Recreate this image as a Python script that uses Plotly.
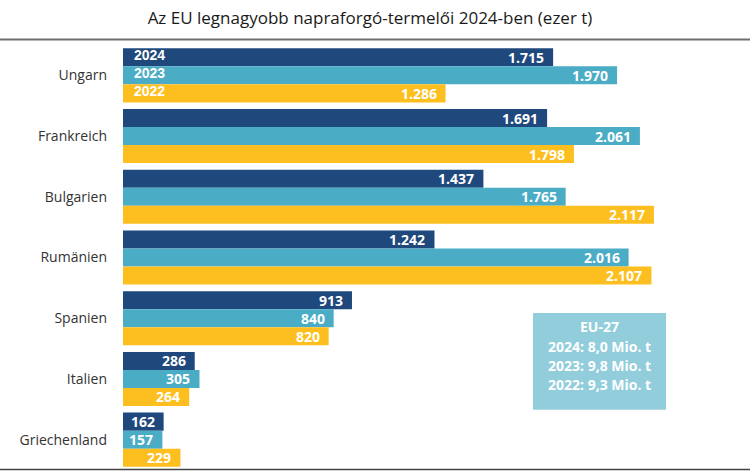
import plotly.graph_objects as go

title_text = "Az EU legnagyobb napraforgó-termelői 2024-ben (ezer t)"
countries = ["Ungarn", "Frankreich", "Bulgarien", "Rumänien", "Spanien", "Italien", "Griechenland"]
years = ["2024", "2023", "2022"]
v2024 = [1715, 1691, 1437, 1242, 913, 286, 162]
v2023 = [1970, 2061, 1765, 2016, 840, 305, 157]
v2022 = [1286, 1798, 2117, 2107, 820, 264, 229]
colors = ["#1f487c", "#4bacc6", "#fdbf1f"]
eu_lines = ["EU-27", "2024: 8,0 Mio. t", "2023: 9,8 Mio. t", "2022: 9,3 Mio. t"]

series = [v2024, v2023, v2022]

W, H = 750, 475
ML, MT, MB = 123, 44.6, 4.6
plot_h = H - MT - MB

fig = go.Figure()
for yr, vals, col in zip(years, series, colors):
    fig.add_trace(go.Bar(
        y=countries, x=vals, name=yr, orientation="h",
        marker=dict(color=col, line=dict(width=0)),
        hoverinfo="skip",
    ))

def fmt(v):
    return f"{v:,}".replace(",", ".")

annotations = []
shifts = [18, 0, -18]
for yr, vals, sh in zip(years, series, shifts):
    for c, v in zip(countries, vals):
        annotations.append(dict(
            x=v, y=c, xref="x", yref="y", text=fmt(v), showarrow=False,
            xanchor="right", yanchor="middle", xshift=-7, yshift=sh,
            font=dict(family="Open Sans", size=14, color="white", weight="bold"),
        ))
    annotations.append(dict(
        x=0, y=countries[0], xref="x", yref="y", text=yr, showarrow=False,
        xanchor="left", yanchor="middle", xshift=9, yshift=sh + 2,
        font=dict(family="Liberation Sans", size=14, color="white", weight="bold"),
    ))

# EU box
box_x0, box_x1, box_y0, box_y1 = 533, 666, 313, 410
def px_to_paper_x(px):
    return (px - ML) / (W - ML)
def px_to_paper_y(py):
    return (H - MB - py) / plot_h

line_ys = [327, 347, 366, 385]
for txt, ly in zip(eu_lines, line_ys):
    annotations.append(dict(
        x=px_to_paper_x((box_x0 + box_x1) / 2), y=px_to_paper_y(ly),
        xref="paper", yref="paper", text=txt, showarrow=False,
        xanchor="center", yanchor="middle",
        font=dict(family="Open Sans", size=14, color="white", weight="bold"),
    ))

shapes = [
    dict(type="rect", xref="paper", yref="paper",
         x0=px_to_paper_x(box_x0), x1=px_to_paper_x(box_x1),
         y0=px_to_paper_y(box_y1), y1=px_to_paper_y(box_y0),
         fillcolor="#92cddc", line=dict(width=0), layer="below"),
    dict(type="line", xref="paper", yref="paper",
         x0=px_to_paper_x(0), x1=1, y0=px_to_paper_y(39), y1=px_to_paper_y(39),
         line=dict(color="#6e6e6e", width=2)),
    dict(type="line", xref="paper", yref="paper",
         x0=px_to_paper_x(0), x1=1, y0=px_to_paper_y(470), y1=px_to_paper_y(470),
         line=dict(color="#444444", width=1.5)),
]

fig.update_layout(
    width=W, height=H,
    margin=dict(l=ML, r=0, t=MT, b=MB, pad=0),
    paper_bgcolor="white", plot_bgcolor="white",
    barmode="group", bargap=0.11, bargroupgap=0,
    showlegend=False,
    title=dict(text=title_text, x=370 / W, y=1 - 18 / H, xref="container", yref="container",
               xanchor="center", yanchor="middle",
               font=dict(family="Open Sans", size=17, color="#1a1a1a")),
    xaxis=dict(range=[0, 2500], visible=False, fixedrange=True),
    yaxis=dict(type="category", autorange="reversed", showgrid=False, zeroline=False,
               showline=False, ticks="", ticklabelstandoff=15, fixedrange=True,
               tickfont=dict(family="Open Sans", size=14, color="#333333")),
    annotations=annotations,
    shapes=shapes,
)

fig.write_html("out.html", config={"displayModeBar": False, "staticPlot": True},
               post_script="document.body.style.margin='0';document.body.style.overflow='hidden';")
